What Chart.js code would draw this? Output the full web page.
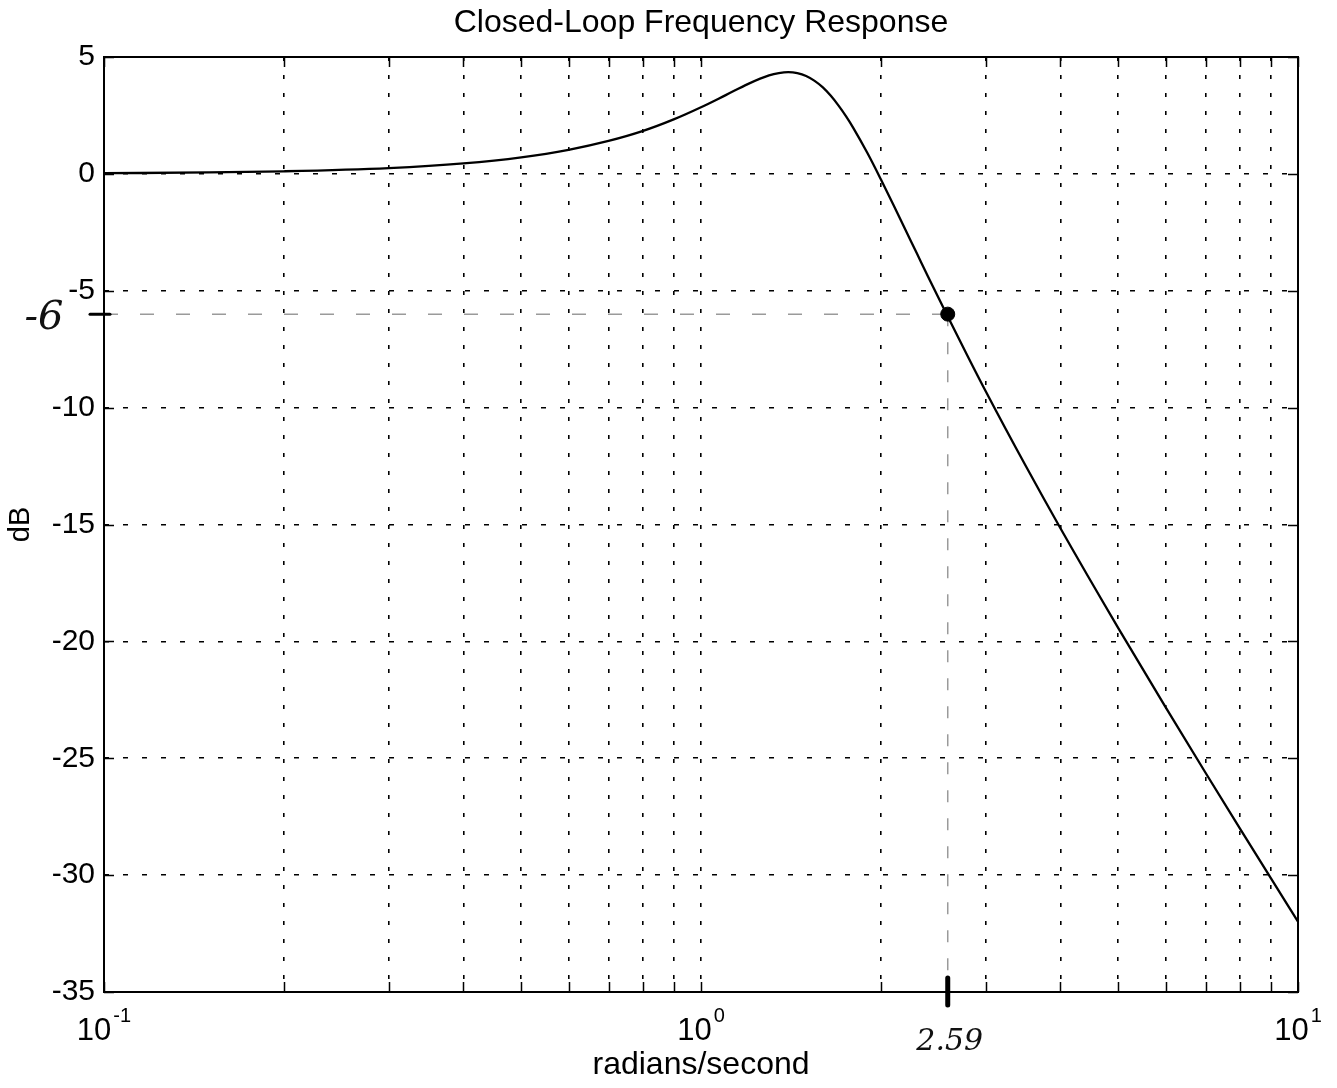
<!DOCTYPE html>
<html>
<head>
<meta charset="utf-8">
<title>Closed-Loop Frequency Response</title>
<script src="https://cdn.jsdelivr.net/npm/chart.js@4.4.1/dist/chart.umd.min.js"></script>
<style>
  html, body { margin: 0; padding: 0; background: #fff; }
</style>
</head>
<body>
<canvas id="bodeChart" width="1337" height="1088"></canvas>
<script>
// frequency (rad/s) and closed-loop magnitude (dB)
const freqs = [0.1, 0.15, 0.2, 0.3, 0.4, 0.5, 0.6, 0.7, 0.8, 0.9, 1.0, 1.1, 1.2, 1.3, 1.35, 1.4, 1.45, 1.5, 1.55, 1.6, 1.65, 1.7, 1.75, 1.8, 1.9, 2.0, 2.1, 2.2, 2.3, 2.4, 2.59, 2.8, 3.0, 3.5, 4, 5, 6, 7, 8, 9, 10];
const magDb = [0.03, 0.06, 0.11, 0.25, 0.45, 0.71, 1.03, 1.41, 1.84, 2.33, 2.85, 3.37, 3.85, 4.21, 4.31, 4.35, 4.31, 4.19, 3.98, 3.70, 3.34, 2.92, 2.46, 1.96, 0.89, -0.22, -1.32, -2.39, -3.41, -4.39, -6.1, -7.82, -9.31, -12.5, -15.16, -19.43, -22.81, -25.62, -28.02, -30.12, -31.99];

const xTickVals = [0.1, 0.2, 0.3, 0.4, 0.5, 0.6, 0.7, 0.8, 0.9, 1, 2, 3, 4, 5, 6, 7, 8, 9, 10];
const xDecades = [0.1, 1, 10];
const xDecadeExp = ["-1", "0", "1"];

// hand-marked -6 dB point
const markFreq = 2.59;
const markDb = -6;
const markFreqLabel = "2.59";
const markDbLabel = "-6";

const FONT = '"Liberation Sans", Arial, Helvetica, sans-serif';

const plotExtras = {
  id: "plotExtras",
  afterDraw(chart) {
    const { ctx, chartArea: a, scales: { x, y } } = chart;
    ctx.save();

    // box + inward ticks (matlab style)
    ctx.strokeStyle = "#000";
    ctx.lineWidth = 2;
    ctx.strokeRect(a.left, a.top, a.right - a.left, a.bottom - a.top);
    ctx.lineWidth = 1.5;
    ctx.beginPath();
    x.ticks.forEach(t => {
      const px = Math.round(x.getPixelForValue(t.value)) + 0.5;
      ctx.moveTo(px, a.bottom); ctx.lineTo(px, a.bottom - 10);
      ctx.moveTo(px, a.top); ctx.lineTo(px, a.top + 10);
    });
    y.ticks.forEach(t => {
      const py = Math.round(y.getPixelForValue(t.value)) + 0.5;
      ctx.moveTo(a.left, py); ctx.lineTo(a.left + 10, py);
      ctx.moveTo(a.right, py); ctx.lineTo(a.right - 10, py);
    });
    ctx.stroke();

    // 10^n labels
    ctx.fillStyle = "#000";
    ctx.textBaseline = "alphabetic";
    xDecades.forEach((v, i) => {
      const px = x.getPixelForValue(v);
      ctx.font = "31px " + FONT;
      const wBase = ctx.measureText("10").width;
      ctx.font = "20px " + FONT;
      const wExp = ctx.measureText(xDecadeExp[i]).width;
      const left = px - (wBase + wExp + 2) / 2;
      ctx.font = "31px " + FONT;
      ctx.textAlign = "left";
      ctx.fillText("10", left, 1040);
      ctx.font = "20px " + FONT;
      ctx.fillText(xDecadeExp[i], left + wBase + 2, 1022);
    });

    // pen marks
    const mx = x.getPixelForValue(markFreq);
    const my = y.getPixelForValue(markDb);
    ctx.lineCap = "round";
    ctx.lineWidth = 5;
    ctx.beginPath();
    ctx.moveTo(mx, a.bottom - 14);
    ctx.lineTo(mx, a.bottom + 13);
    ctx.stroke();
    ctx.lineWidth = 3;
    ctx.beginPath();
    ctx.moveTo(a.left - 14, my);
    ctx.lineTo(a.left + 6, my);
    ctx.stroke();

    ctx.fillStyle = "#111";
    ctx.font = 'italic 40px "DejaVu Serif", serif';
    ctx.textAlign = "center";
    ctx.textBaseline = "middle";
    ctx.fillText(markDbLabel, 44, my + 4);
    ctx.font = 'italic 30px "DejaVu Serif", serif';
    ctx.fillText(markFreqLabel, mx + 2, 1042);

    ctx.restore();
  }
};

document.addEventListener("DOMContentLoaded", () => {
  const ctx = document.getElementById("bodeChart").getContext("2d");
  new Chart(ctx, {
    type: "line",
    data: {
      datasets: [
        {
          label: "Closed-loop",
          data: freqs.map((f, i) => ({ x: f, y: magDb[i] })),
          borderColor: "#000",
          borderWidth: 2.3,
          pointRadius: 0,
          cubicInterpolationMode: "monotone",
          order: 1
        },
        {
          label: "-6 dB",
          data: [{ x: 0.1, y: markDb }, { x: markFreq, y: markDb }],
          borderColor: "#9a9a9a",
          borderWidth: 1.5,
          borderDash: [14, 22],
          pointRadius: 0,
          order: 3
        },
        {
          label: "bandwidth",
          data: [{ x: markFreq, y: markDb }, { x: markFreq, y: -35 }],
          borderColor: "#9a9a9a",
          borderWidth: 1.5,
          borderDash: [12, 16],
          pointRadius: 0,
          order: 3
        },
        {
          label: "mark",
          data: [{ x: markFreq, y: markDb }],
          showLine: false,
          pointRadius: 7,
          pointBackgroundColor: "#000",
          pointBorderColor: "#000",
          order: 0
        }
      ]
    },
    options: {
      responsive: false,
      animation: false,
      layout: { padding: { right: 39 } },
      plugins: {
        legend: { display: false },
        tooltip: { enabled: false },
        title: {
          display: true,
          fullSize: false,
          text: "Closed-Loop Frequency Response",
          color: "#000",
          font: { family: FONT, size: 32, weight: "normal", lineHeight: 1.2 },
          padding: { top: 4, bottom: 14.6 }
        }
      },
      scales: {
        x: {
          type: "logarithmic",
          min: 0.1,
          max: 10,
          afterBuildTicks: s => { s.ticks = xTickVals.map(v => ({ value: v })); },
          afterFit: s => { s.height = 96; },
          ticks: { display: false },
          grid: { color: "#000", lineWidth: 1.6, drawTicks: false },
          border: { display: false, dash: [4, 14] },
          title: {
            display: true,
            text: "radians/second",
            color: "#000",
            font: { family: FONT, size: 32, lineHeight: 1.2 },
            padding: { top: 0, bottom: 4 }
          }
        },
        y: {
          min: -35,
          max: 5,
          afterFit: s => { s.width = 104; },
          ticks: {
            stepSize: 5,
            color: "#000",
            padding: 9,
            font: { family: FONT, size: 30 }
          },
          grid: { color: "#000", lineWidth: 1.6, drawTicks: false },
          border: { display: false, dash: [5, 14] },
          title: {
            display: true,
            text: "dB",
            color: "#000",
            font: { family: FONT, size: 29, lineHeight: 1.2 },
            padding: { top: 4, bottom: 0 }
          }
        }
      }
    },
    plugins: [plotExtras]
  });
});
</script>
</body>
</html>
